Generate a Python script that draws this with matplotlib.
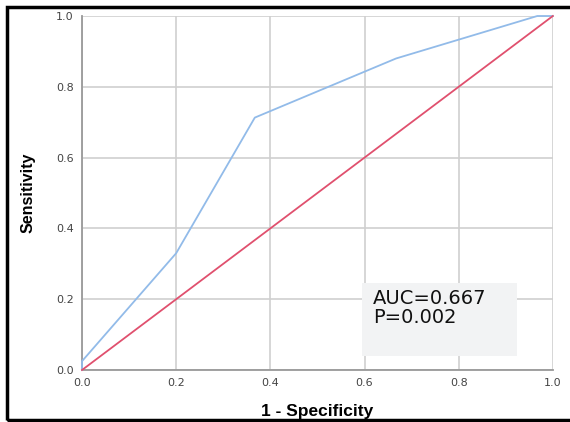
import matplotlib
matplotlib.use("Agg")
import matplotlib.pyplot as plt
from matplotlib.patches import Rectangle

plt.rcParams["font.family"] = ["Liberation Sans", "DejaVu Sans"]

# ROC curve points
fpr = [0.0, 0.0, 0.2, 0.367, 0.667, 0.967, 1.0]
tpr = [0.0, 0.025, 0.33, 0.713, 0.88, 1.0, 1.0]
ref = [0.0, 1.0]
ticks = [0.0, 0.2, 0.4, 0.6, 0.8, 1.0]
tick_labels = ["0.0", "0.2", "0.4", "0.6", "0.8", "1.0"]
auc_text = "AUC=0.667"
p_text = "P=0.002"

fig = plt.figure(figsize=(5.7, 4.22), dpi=100)
ax = fig.add_axes([0.1439, 0.1232, 0.826, 0.8389])

ax.plot(fpr, tpr, color="#92bbe9", lw=1.3, zorder=3, clip_on=False)
ax.plot(ref, ref, color="#e0506e", lw=1.3, zorder=3, clip_on=False)

ax.set_xlim(0, 1)
ax.set_ylim(0, 1)
ax.set_xticks(ticks)
ax.set_yticks(ticks)
ax.set_xticklabels(tick_labels, family="DejaVu Sans")
ax.set_yticklabels(tick_labels, family="DejaVu Sans")
ax.tick_params(length=0, labelsize=8, colors="#444444", pad=6)
ax.grid(True, color="#cfcfcf", lw=1.2)
ax.set_axisbelow(True)
for s in ["top", "right"]:
    ax.spines[s].set_visible(False)
for s in ["left", "bottom"]:
    ax.spines[s].set_color("#999999")
    ax.spines[s].set_linewidth(1.3)

ax.set_xlabel("1 - Specificity", fontsize=12.5, fontweight="bold", labelpad=11)
ax.set_ylabel("Sensitivity", fontsize=11.5, fontweight="bold", labelpad=15,
              family=["Liberation Sans Narrow", "Liberation Sans"])

ax.add_patch(Rectangle((0.594, 0.04), 0.33, 0.205, facecolor="#f2f3f4",
                       edgecolor="none", zorder=4))
ax.text(0.618, 0.186, auc_text, fontsize=14, va="baseline", ha="left",
        family="DejaVu Sans", color="#111111", zorder=5)
ax.text(0.618, 0.132, p_text, fontsize=14, va="baseline", ha="left",
        family="DejaVu Sans", color="#111111", zorder=5)

# black frame around the whole picture (right edge runs off the image)
fig.patches.append(Rectangle((0.012, 0.004), 1.1, 0.979, transform=fig.transFigure,
                             fill=False, edgecolor="black", lw=2.5, clip_on=False))

fig.savefig("out.png", dpi=100)
